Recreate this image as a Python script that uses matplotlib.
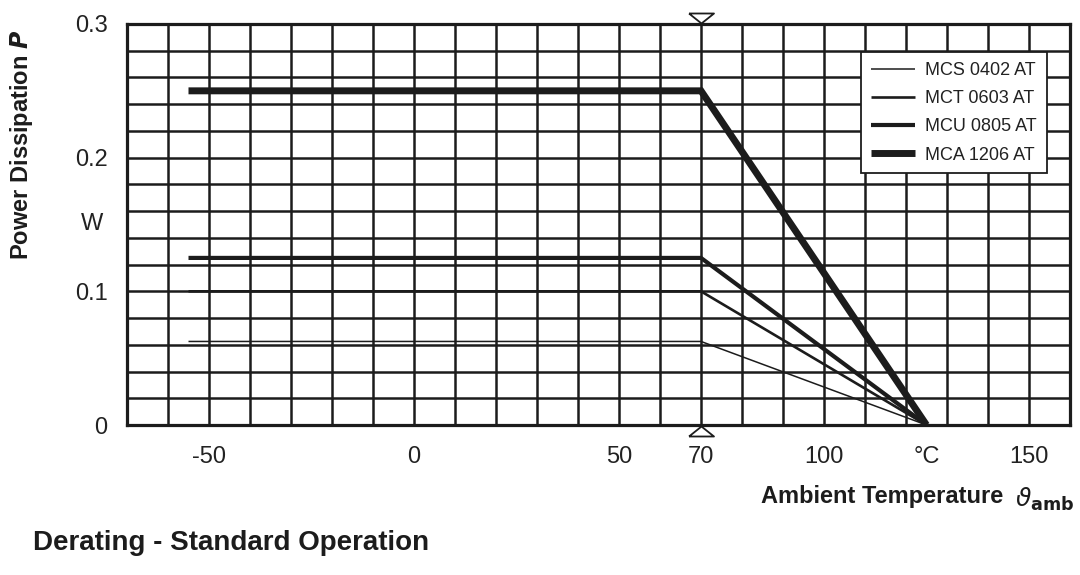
import numpy as np
import matplotlib
matplotlib.use("Agg")
from matplotlib import pyplot as plt

plt.rcParams['font.family'] = ['Liberation Sans', 'DejaVu Sans']

# derating curves: flat from -55 up to 70 degC, then down to 0 at 125 degC
series_names = ['MCS 0402 AT', 'MCT 0603 AT', 'MCU 0805 AT', 'MCA 1206 AT']
temp_points = [-55, 70, 125]
power_mcs = [0.0625, 0.0625, 0.0]
power_mct = [0.1, 0.1, 0.0]
power_mcu = [0.125, 0.125, 0.0]
power_mca = [0.25, 0.25, 0.0]

xtick_vals = [-50, 0, 50, 70, 100, 125, 150]
xtick_labels = ['-50', '0', '50', '70', '100', '°C', '150']
ytick_vals = [0, 0.1, 0.2, 0.3]
ytick_labels = ['0', '0.1', '0.2', '0.3']

ink = '#1c1c1c'

fig = plt.figure(figsize=(10.8, 5.75), dpi=100)
ax = fig.add_axes([127/1080, 1-425/575, (1070-127)/1080, (425-24)/575])

# grid every 10 degC and 0.02 W
for gx in np.arange(-60, 160, 10):
    ax.axvline(gx, color=ink, lw=1.8, zorder=1)
for gy in np.arange(0.02, 0.3, 0.02):
    ax.axhline(gy, color=ink, lw=1.8, zorder=1)

widths = [1.1, 1.9, 3.0, 5.0]
all_series = [power_mcs, power_mct, power_mcu, power_mca]
for name, vals, w in zip(series_names, all_series, widths):
    ax.plot(temp_points, vals, color=ink, lw=w, label=name,
            solid_capstyle='butt', solid_joinstyle='miter', zorder=3)

# flat hollow triangles marking 70 degC above and below the frame
tri_down = [(-1.25, 0.5), (1.25, 0.5), (0, -0.5), (-1.25, 0.5)]
tri_up = [(-1.25, -0.5), (1.25, -0.5), (0, 0.5), (-1.25, -0.5)]
ax.plot([70], [0.3 + 0.0042], marker=tri_down, ms=18, mfc='white', mec=ink,
        mew=1.3, clip_on=False, zorder=5, ls='none')
ax.plot([70], [0.0 - 0.0045], marker=tri_up, ms=18, mfc='white', mec=ink,
        mew=1.3, clip_on=False, zorder=5, ls='none')

ax.set_xlim(-70, 160)
ax.set_ylim(0, 0.3)
ax.set_xticks(xtick_vals)
ax.set_xticklabels(xtick_labels)
ax.set_yticks(ytick_vals)
ax.set_yticklabels(ytick_labels)
ax.tick_params(length=0, labelsize=17, colors='#222222')
ax.tick_params(axis='x', pad=15)
ax.tick_params(axis='y', pad=14)
for sp in ax.spines.values():
    sp.set_linewidth(2.3)
    sp.set_color(ink)

leg = ax.legend(loc='upper right', bbox_to_anchor=(1047/1080, 1-52/575),
                bbox_transform=fig.transFigure, fontsize=13, frameon=True,
                fancybox=False, framealpha=1, edgecolor=ink,
                handlelength=2.4, handletextpad=0.6, labelspacing=0.62,
                borderpad=0.55, borderaxespad=0)
leg.get_frame().set_linewidth(1.3)
leg.set_zorder(10)
for t in leg.get_texts():
    t.set_color('#222222')

fig.text(103/1080, 1-224/575, 'W', fontsize=17, ha='right', va='center',
         color='#222222')
fig.text(22/1080, 1-145/575, r'Power Dissipation $\mathbfit{P}$', rotation=90,
         fontsize=17, fontweight='bold', ha='center', va='center', color=ink)
fig.text(1003/1080, 1-497/575, 'Ambient Temperature', fontsize=17,
         fontweight='bold', ha='right', va='center', color=ink)
fig.text(1015/1080, 1-499/575, r'$\vartheta_{\mathbf{amb}}$', fontsize=18,
         ha='left', va='center', color=ink)
fig.text(33/1080, 1-543/575, 'Derating - Standard Operation', fontsize=20,
         fontweight='bold', ha='left', va='center', color=ink)

fig.savefig('out.png', dpi=100, facecolor='white')
